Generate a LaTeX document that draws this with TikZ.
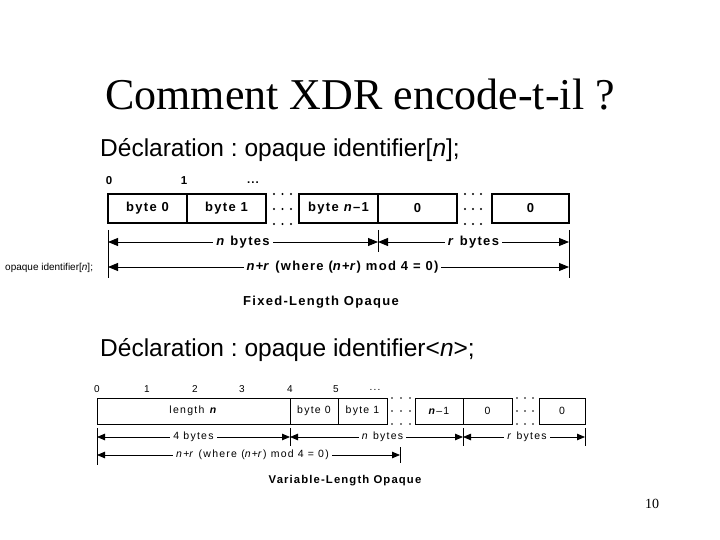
\documentclass[tikz,border=0pt]{standalone}
\usepackage{fontspec}
\setmainfont{Liberation Serif}
\newfontfamily\arial{Liberation Sans}
\newfontfamily\dfont[LetterSpace=10]{Liberation Sans}
\newfontfamily\vfont[LetterSpace=12]{Liberation Sans}
\usetikzlibrary{arrows.meta}
\frenchspacing
\tikzset{
  cellA/.style={draw, line width=1.1pt, minimum height=29pt, inner sep=0pt,
    font=\dfont\bfseries\fontsize{13}{14}\selectfont},
  cellB/.style={draw, line width=0.8pt, minimum height=26pt, inner sep=0pt,
    font=\vfont\fontsize{10.5}{11}\selectfont},
  idxA/.style={inner sep=0pt, font=\dfont\bfseries\fontsize{11.5}{12}\selectfont},
  idxB/.style={inner sep=0pt, font=\vfont\fontsize{10}{10}\selectfont},
  dimA/.style={line width=1pt, {Triangle[length=10pt,width=8pt]}-{Triangle[length=10pt,width=8pt]}},
  dimB/.style={line width=0.8pt, {Triangle[length=8pt,width=6.5pt]}-{Triangle[length=8pt,width=6.5pt]}},
  tickA/.style={line width=1pt},
  tickB/.style={line width=0.8pt},
  lblA/.style={fill=white, inner sep=3pt, font=\dfont\bfseries\fontsize{13}{14}\selectfont},
  lblB/.style={fill=white, inner sep=3pt, font=\vfont\fontsize{10.5}{11}\selectfont},
  decl/.style={inner sep=0pt, anchor=west, font=\arial\fontsize{24.5}{28}\selectfont},
}
\begin{document}
\begin{tikzpicture}[x=1pt,y=-1pt]
\useasboundingbox[fill=white] (0,0) rectangle (720,540);

% title
\node[inner sep=0pt, font=\fontsize{44}{50}\selectfont] (title) at (360,95) {Comment XDR encode-t-il ?};
\node[decl] (decl1) at (100,150) {Déclaration : opaque identifier[\textit{n}];};
\node[decl] (decl2) at (100,350) {Déclaration : opaque identifier<\textit{n}>;};
\node[inner sep=0pt, anchor=west, font=\arial\fontsize{10}{11}\selectfont] (side) at (5,268) {opaque identifier[\textit{n}];};
\node[inner sep=0pt, font=\fontsize{14}{16}\selectfont] (page) at (652,504) {10};

% ---------- Fixed-length ----------
\node[idxA] (fi0) at (109,181) {0};
\node[idxA] (fi1) at (184,181) {1};
\node[idxA] (fidots) at (253,183) {...};

\node[cellA, minimum width=79pt] (fb0) at (147.5,208.5) {byte 0};
\node[cellA, minimum width=79pt] (fb1) at (226.5,208.5) {byte 1};
\node[cellA, minimum width=79pt] (fbn) at (338.5,208.5) {byte \textit{n}–1};
\node[cellA, minimum width=79pt] (fz1) at (417.5,208.5) {0};
\node[cellA, minimum width=77pt] (fz2) at (530.5,208.5) {0};

\foreach \xx in {274,282.5,291,465,473,481}
  \foreach \yy in {194,209,224}
    \fill (\xx,\yy) circle[radius=1.1pt];

\coordinate (fa) at (108,230);
\coordinate (fb) at (378,230);
\coordinate (fc) at (569,230);
\coordinate (fa1) at (108,242);
\coordinate (fb1p) at (378,242);
\coordinate (fc1) at (569,242);
\coordinate (fa2) at (108,267);
\coordinate (fc2) at (569,267);
\coordinate (faE) at (108,278);
\coordinate (fbE) at (378,252);
\coordinate (fcE) at (569,278);
\draw[tickA] (fa) -- (faE);
\draw[tickA] (fb) -- (fbE);
\draw[tickA] (fc) -- (fcE);
\draw[dimA] (fa1) -- node[lblA] {\textit{n} bytes} (fb1p);
\draw[dimA] (fb1p) -- node[lblA] {\textit{r} bytes} (fc1);
\draw[dimA] (fa2) -- node[lblA, xshift=4pt] {\textit{n}+\textit{r} (where (\textit{n}+\textit{r}) mod 4 = 0)} (fc2);

\node[inner sep=0pt, font=\dfont\bfseries\fontsize{13}{14}\selectfont] (fcap) at (321,302) {Fixed-Length Opaque};

% ---------- Variable-length ----------
\node[idxB] (vi0) at (97,389) {0};
\node[idxB] (vi1) at (147,389) {1};
\node[idxB] (vi2) at (195,389) {2};
\node[idxB] (vi3) at (242,389) {3};
\node[idxB] (vi4) at (290,389) {4};
\node[idxB] (vi5) at (336,389) {5};
\node[idxB] (vidots) at (375,390) {...};

\node[cellB, minimum width=193pt] (vlen) at (193.5,411) {length \textbf{\textit{n}}};
\node[cellB, minimum width=48pt] (vb0) at (314,411) {byte 0};
\node[cellB, minimum width=49pt] (vb1) at (362.5,411) {byte 1};
\node[cellB, minimum width=48pt] (vbn) at (439,411) {\textbf{\textit{n}}–1};
\node[cellB, minimum width=49pt] (vz1) at (487.5,411) {0};
\node[cellB, minimum width=46pt] (vz2) at (562,411) {0};

\foreach \xx in {392,401,410,517,525,533}
  \foreach \yy in {398,411,424}
    \fill (\xx,\yy) circle[radius=0.8pt];

\coordinate (va) at (97,428);
\coordinate (vb) at (290,428);
\coordinate (vc) at (463,428);
\coordinate (vd) at (585,428);
\coordinate (vaE) at (97,465);
\coordinate (vbE) at (290,446);
\coordinate (vcE) at (463,446);
\coordinate (vdE) at (585,446);
\coordinate (veS) at (400,447);
\coordinate (veE) at (400,463);
\draw[tickB] (va) -- (vaE);
\draw[tickB] (vb) -- (vbE);
\draw[tickB] (vc) -- (vcE);
\draw[tickB] (vd) -- (vdE);
\draw[tickB] (veS) -- (veE);
\coordinate (va1) at (97,437);
\coordinate (vb1p) at (290,437);
\coordinate (vc1) at (463,437);
\coordinate (vd1) at (585,437);
\coordinate (va2) at (97,455);
\coordinate (ve2) at (400,455);
\draw[dimB] (va1) -- node[lblB] {4 bytes} (vb1p);
\draw[dimB] (vb1p) -- node[lblB, xshift=6pt] {\textit{n} bytes} (vc1);
\draw[dimB] (vc1) -- node[lblB, xshift=3pt] {\textit{r} bytes} (vd1);
\draw[dimB] (va2) -- node[lblB, xshift=4pt] {\textit{n}+\textit{r} (where (\textit{n}+\textit{r}) mod 4 = 0)} (ve2);

\node[inner sep=0pt, font=\dfont\bfseries\fontsize{11.3}{12}\selectfont] (vcap) at (345,481) {Variable-Length Opaque};
\end{tikzpicture}
\end{document}
